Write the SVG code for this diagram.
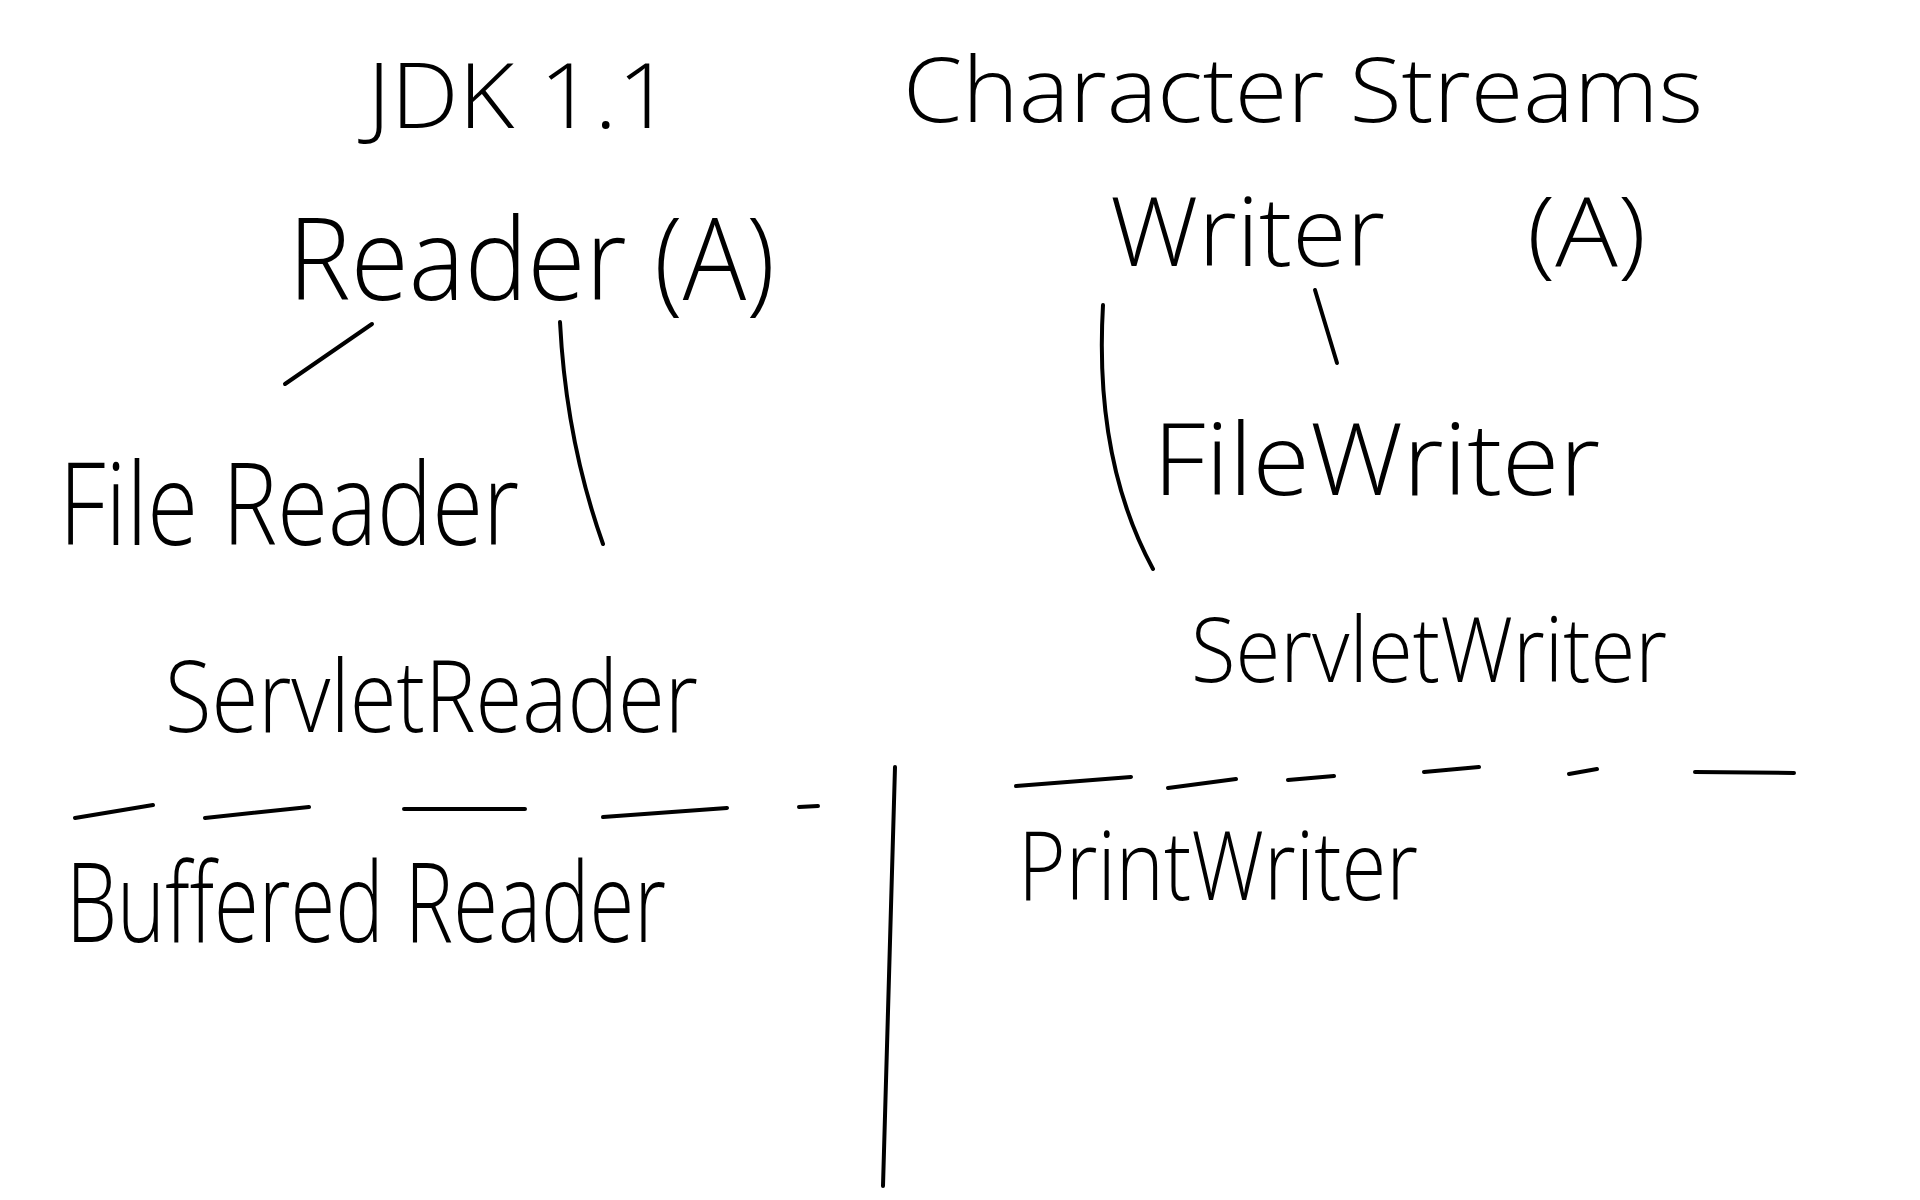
<svg xmlns="http://www.w3.org/2000/svg" width="1920" height="1200" viewBox="0 0 1920 1200">
<style>
.t{font-family:"Open Sans","DejaVu Sans",sans-serif;font-weight:300;fill:#000}
.s{fill:none;stroke:#000;stroke-width:4;stroke-linecap:round;stroke-linejoin:round}
</style>
<rect width="1920" height="1200" fill="#fff"/>
<g id="title">
<text class="t" x="367" y="128" font-size="90" textLength="305" lengthAdjust="spacingAndGlyphs">JDK 1.1</text>
<text class="t" x="903" y="122" font-size="90" textLength="800" lengthAdjust="spacingAndGlyphs">Character Streams</text>
</g>
<g id="reader"><text class="t" x="288" y="300" font-size="115" textLength="487" lengthAdjust="spacingAndGlyphs">Reader (A)</text></g>
<g id="writer"><text class="t" y="266" font-size="95"><tspan x="1110" textLength="275" lengthAdjust="spacingAndGlyphs">Writer</tspan><tspan x="1500" textLength="146" lengthAdjust="spacingAndGlyphs"> (A)</tspan></text></g>
<g id="filereader"><text class="t" x="59" y="545" font-size="115" textLength="460" lengthAdjust="spacingAndGlyphs">File Reader</text></g>
<g id="filewriter"><text class="t" x="1153" y="495" font-size="100" textLength="447" lengthAdjust="spacingAndGlyphs">FileWriter</text></g>
<g id="servletreader"><text class="t" x="165" y="732" font-size="100" textLength="533" lengthAdjust="spacingAndGlyphs">ServletReader</text></g>
<g id="servletwriter"><text class="t" x="1191" y="682" font-size="90" textLength="476" lengthAdjust="spacingAndGlyphs">ServletWriter</text></g>
<g id="bufferedreader"><text class="t" x="66" y="942" font-size="110" textLength="600" lengthAdjust="spacingAndGlyphs">Buffered Reader</text></g>
<g id="printwriter"><text class="t" x="1018" y="900" font-size="95" textLength="400" lengthAdjust="spacingAndGlyphs">PrintWriter</text></g>
<g id="connectors">
<path class="s" d="M372 324 L285 384"/>
<path class="s" d="M560 322 Q566 440 603 544"/>
<path class="s" d="M1315 290 L1337 363"/>
<path class="s" d="M1103 305 Q1094 460 1153 569"/>
<path class="s" d="M895 767 L883 1186"/>
<path class="s" d="M75 818 L153 805 M205 818 L309 807 M404 809 L525 809 M603 817 L727 808 M799 807 L818 806"/>
<path class="s" d="M1016 786 L1131 777 M1168 788 L1236 779 M1288 780 L1334 776 M1424 772 L1479 767 M1569 774 L1597 769 M1695 772 L1794 773"/>
</g>
</svg>
